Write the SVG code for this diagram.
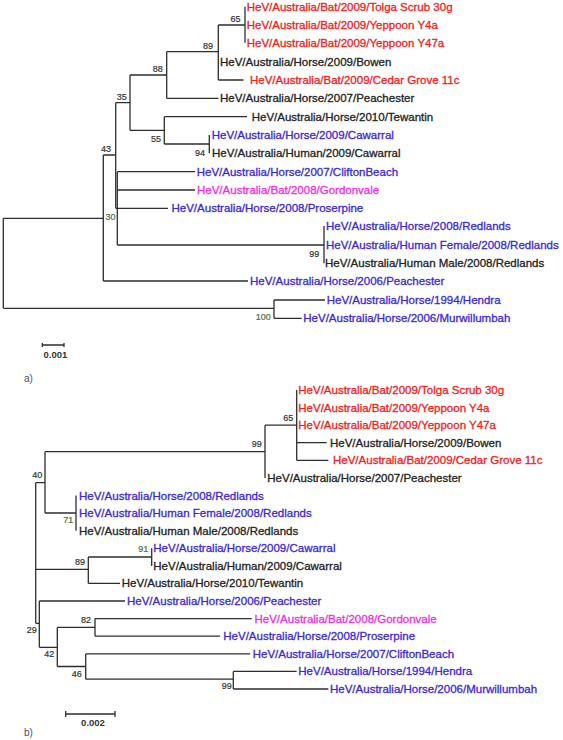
<svg xmlns="http://www.w3.org/2000/svg" width="563" height="740" viewBox="0 0 563 740">
<style>
text{font-family:"Liberation Sans",Arial,sans-serif}
.lf{font-size:11.5px;dominant-baseline:central;stroke-width:0.3}
.r{fill:#ee2020;stroke:#ee2020}.b{fill:#3a28d6;stroke:#3a28d6}.m{fill:#ee2ee0;stroke:#ee2ee0}.k{fill:#222;stroke:#222}
.bs{font-size:9px;fill:#333;text-anchor:middle;stroke:#333;stroke-width:0.2}
.g{fill:#4f6e3a;stroke:#4f6e3a}
.br{fill:none;stroke:#2e2e2e;stroke-width:1.3}
.sc{font-size:9.5px;fill:#333;text-anchor:middle;font-weight:bold}
.pl{font-size:10px;fill:#4a5060}
</style>
<rect width="563" height="740" fill="#fff"/>
<g id="connectors" class="br">
<!-- tree a -->
<path d="M3.3,218.3V308.3M3.3,218.3H103.3M3.3,308.3H274"/>
<path d="M103.3,155V281M103.3,155H115.7M103.3,281H248"/>
<path d="M115.7,102.7V208.3M115.7,102.7H130M115.7,208.3H168"/>
<path d="M130,75V130.3M130,75H166.7M130,130.3H164.3"/>
<path d="M166.7,51.7V98.3M166.7,51.7H218.3M166.7,98.3H218.5"/>
<path d="M218.3,25V80M218.3,25H245M218.3,80H243.5"/>
<path d="M245,6.7V42.7"/>
<path d="M164.3,116.7V144M164.3,116.7H247M164.3,144H209.3"/>
<path d="M209.3,135V153.3"/>
<path d="M117.3,171.7V245M117.3,171.7H195M117.3,190H195M117.3,245H324"/>
<path d="M324,226V263.3"/>
<path d="M274,300V318.3M274,300H325M274,318.3H301.7"/>
<!-- tree b -->
<path d="M35.7,482.7V623.3M35.7,482.7H45M35.7,569.3H88.3M35.7,623.3H39.3"/>
<path d="M45,451.7V513M45,451.7H265M45,513H76"/>
<path d="M265,425.2V478M265,425.2H296.7"/>
<path d="M296.7,390V460.3M296.7,442.7H326.7M296.7,460.3H328.3"/>
<path d="M76,495.6V530.8"/>
<path d="M88.3,557V583.4M88.3,557H151.7M88.3,583.4H120"/>
<path d="M151.7,548.3V565.9"/>
<path d="M39.3,601V647.3M39.3,601H125M39.3,647.3H57.3"/>
<path d="M57.3,627.4V666.5M57.3,627.4H95M57.3,666.5H85.7"/>
<path d="M95,618.6V636.2M95,618.6H251.7M95,636.2H220"/>
<path d="M85.7,653.8V679.2M85.7,653.8H250M85.7,679.2H233.3"/>
<path d="M233.3,671.4V689M233.3,671.4H296.7M233.3,689H328.3"/>
<!-- scale bars -->
<path d="M42.3,343V347M42.3,345H64M64,343V347"/>
<path d="M65.7,711V717M65.7,714H115M115,711V717"/>
</g>
<!-- tree a leaves -->
<g id="a-tolga"><text class="lf r" x="246.7" y="6.7">HeV/Australia/Bat/2009/Tolga Scrub 30g</text></g>
<g id="a-y4a"><text class="lf r" x="246.7" y="25">HeV/Australia/Bat/2009/Yeppoon Y4a</text></g>
<g id="a-y47a"><text class="lf r" x="246.7" y="42.7">HeV/Australia/Bat/2009/Yeppoon Y47a</text></g>
<g id="a-bowen"><text class="lf k" x="220" y="61.7">HeV/Australia/Horse/2009/Bowen</text></g>
<g id="a-cedar"><text class="lf r" x="250" y="80">HeV/Australia/Bat/2009/Cedar Grove 11c</text></g>
<g id="a-peach07"><text class="lf k" x="220" y="98.3">HeV/Australia/Horse/2007/Peachester</text></g>
<g id="a-tewantin"><text class="lf k" x="251.7" y="116.7">HeV/Australia/Horse/2010/Tewantin</text></g>
<g id="a-cawarral-horse"><text class="lf b" x="211.7" y="135">HeV/Australia/Horse/2009/Cawarral</text></g>
<g id="a-cawarral-human"><text class="lf k" x="212" y="153.3">HeV/Australia/Human/2009/Cawarral</text></g>
<g id="a-clifton"><text class="lf b" x="196.7" y="171.7">HeV/Australia/Horse/2007/CliftonBeach</text></g>
<g id="a-gordonvale"><text class="lf m" x="197" y="190">HeV/Australia/Bat/2008/Gordonvale</text></g>
<g id="a-proserpine"><text class="lf b" x="171.5" y="208.3">HeV/Australia/Horse/2008/Proserpine</text></g>
<g id="a-redlands-horse"><text class="lf b" x="326" y="226">HeV/Australia/Horse/2008/Redlands</text></g>
<g id="a-redlands-female"><text class="lf b" x="326" y="244.7">HeV/Australia/Human Female/2008/Redlands</text></g>
<g id="a-redlands-male"><text class="lf k" x="325" y="263.3">HeV/Australia/Human Male/2008/Redlands</text></g>
<g id="a-peach06"><text class="lf b" x="250" y="281">HeV/Australia/Horse/2006/Peachester</text></g>
<g id="a-hendra"><text class="lf b" x="326.7" y="300">HeV/Australia/Horse/1994/Hendra</text></g>
<g id="a-murw"><text class="lf b" x="303.3" y="318.3">HeV/Australia/Horse/2006/Murwillumbah</text></g>
<!-- tree a bootstrap -->
<g id="a-n65"><text class="bs" x="235.5" y="21.5">65</text></g>
<g id="a-n89"><text class="bs" x="208" y="48.5">89</text></g>
<g id="a-n88"><text class="bs" x="157.7" y="71.5">88</text></g>
<g id="a-n35"><text class="bs" x="121.7" y="100">35</text></g>
<g id="a-n43"><text class="bs" x="106" y="151.5">43</text></g>
<g id="a-n55"><text class="bs" x="156" y="141.5">55</text></g>
<g id="a-n94"><text class="bs" x="200" y="156">94</text></g>
<g id="a-n30"><text class="bs g" x="110.5" y="220">30</text></g>
<g id="a-n99"><text class="bs" x="314.3" y="256.5">99</text></g>
<g id="a-n100"><text class="bs g" x="263.3" y="320">100</text></g>
<g id="a-scale"><text class="sc" x="55.5" y="358.3">0.001</text></g>
<g id="a-label"><text class="pl" x="24" y="381.5">a)</text></g>
<!-- tree b leaves -->
<g id="b-tolga"><text class="lf r" x="298.3" y="390">HeV/Australia/Bat/2009/Tolga Scrub 30g</text></g>
<g id="b-y4a"><text class="lf r" x="298.3" y="407.6">HeV/Australia/Bat/2009/Yeppoon Y4a</text></g>
<g id="b-y47a"><text class="lf r" x="298.3" y="425.2">HeV/Australia/Bat/2009/Yeppoon Y47a</text></g>
<g id="b-bowen"><text class="lf k" x="330" y="442.7">HeV/Australia/Horse/2009/Bowen</text></g>
<g id="b-cedar"><text class="lf r" x="333" y="460.3">HeV/Australia/Bat/2009/Cedar Grove 11c</text></g>
<g id="b-peach07"><text class="lf k" x="267.3" y="478">HeV/Australia/Horse/2007/Peachester</text></g>
<g id="b-redlands-horse"><text class="lf b" x="79" y="495.6">HeV/Australia/Horse/2008/Redlands</text></g>
<g id="b-redlands-female"><text class="lf b" x="79" y="513.2">HeV/Australia/Human Female/2008/Redlands</text></g>
<g id="b-redlands-male"><text class="lf k" x="79" y="530.8">HeV/Australia/Human Male/2008/Redlands</text></g>
<g id="b-cawarral-horse"><text class="lf b" x="153.3" y="548.3">HeV/Australia/Horse/2009/Cawarral</text></g>
<g id="b-cawarral-human"><text class="lf k" x="153.3" y="565.9">HeV/Australia/Human/2009/Cawarral</text></g>
<g id="b-tewantin"><text class="lf k" x="121.7" y="583.4">HeV/Australia/Horse/2010/Tewantin</text></g>
<g id="b-peach06"><text class="lf b" x="127" y="601">HeV/Australia/Horse/2006/Peachester</text></g>
<g id="b-gordonvale"><text class="lf m" x="254.5" y="618.6">HeV/Australia/Bat/2008/Gordonvale</text></g>
<g id="b-proserpine"><text class="lf b" x="223.3" y="636.2">HeV/Australia/Horse/2008/Proserpine</text></g>
<g id="b-clifton"><text class="lf b" x="252.7" y="653.8">HeV/Australia/Horse/2007/CliftonBeach</text></g>
<g id="b-hendra"><text class="lf b" x="298.3" y="671.4">HeV/Australia/Horse/1994/Hendra</text></g>
<g id="b-murw"><text class="lf b" x="330" y="689">HeV/Australia/Horse/2006/Murwillumbah</text></g>
<!-- tree b bootstrap -->
<g id="b-n99a"><text class="bs" x="256.7" y="446.5">99</text></g>
<g id="b-n65"><text class="bs" x="288.3" y="420.5">65</text></g>
<g id="b-n40"><text class="bs" x="37.3" y="478.3">40</text></g>
<g id="b-n71"><text class="bs g" x="68.3" y="522.5">71</text></g>
<g id="b-n89"><text class="bs" x="80" y="565">89</text></g>
<g id="b-n91"><text class="bs g" x="143.3" y="551.5">91</text></g>
<g id="b-n29"><text class="bs" x="31.7" y="633.3">29</text></g>
<g id="b-n42"><text class="bs" x="49.3" y="657.3">42</text></g>
<g id="b-n82"><text class="bs" x="86" y="622.5">82</text></g>
<g id="b-n46"><text class="bs" x="76.7" y="677.3">46</text></g>
<g id="b-n99b"><text class="bs" x="226.7" y="689.3">99</text></g>
<g id="b-scale"><text class="sc" x="93" y="726">0.002</text></g>
<g id="b-label"><text class="pl" x="24" y="736">b)</text></g>
</svg>
